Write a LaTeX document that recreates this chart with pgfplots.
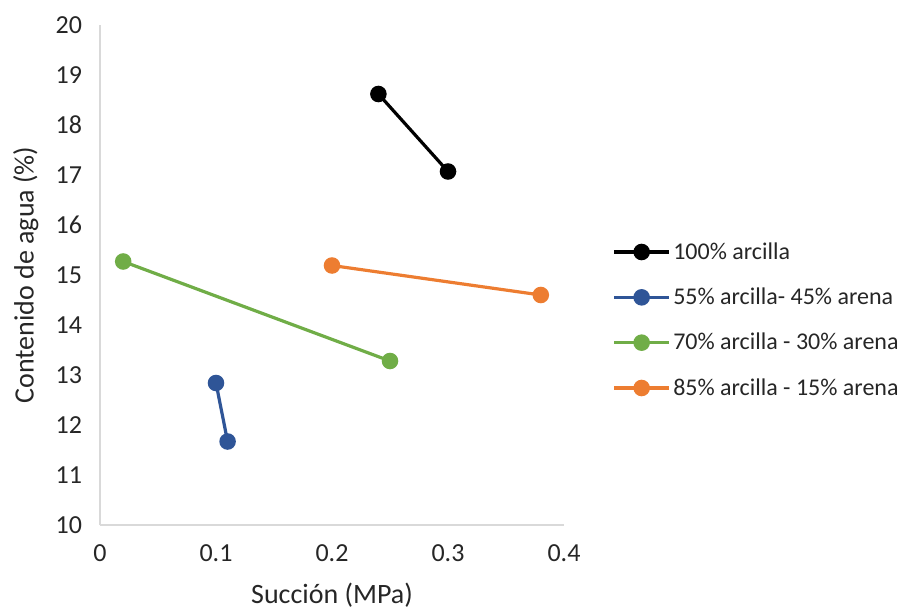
\documentclass[border=0pt]{standalone}
\usepackage{pgfplots}
\pgfplotsset{compat=1.18}
\usepackage{fontspec}
\setmainfont{Carlito}
\definecolor{cblue}{HTML}{2F5597}
\definecolor{cgreen}{HTML}{70AD47}
\definecolor{corange}{HTML}{ED7D31}
\definecolor{txt}{HTML}{262626}
\definecolor{axgray}{HTML}{D9D9D9}
\begin{document}
\begin{tikzpicture}
\begin{axis}[
  at={(0,0)}, anchor=south west,
  scale only axis, width=348pt, height=375pt,
  xmin=0, xmax=0.4, ymin=10, ymax=20,
  xtick={0,0.1,0.2,0.3,0.4}, ytick={10,11,...,20},
  axis x line=bottom, axis y line=left,
  axis line style={axgray, line width=1pt, -},
  major tick length=0pt,
  /pgf/number format/assume math mode=true,
  /pgf/number format/fixed,
  tick label style={font=\fontsize{19.5}{23}\selectfont, text=txt},
  xticklabel style={yshift=-11pt},
  yticklabel style={xshift=-10pt},
  xlabel={Succión (MPa)}, ylabel={Contenido de agua (\%)},
  label style={font=\fontsize{21}{25}\selectfont, text=txt},
  xlabel style={yshift=-9pt},
  ylabel style={yshift=6pt},
  legend style={at={(rel axis cs:1.105,0.41)}, anchor=west, draw=none, fill=none,
    inner sep=0pt, outer sep=0pt,
    font=\fontsize{18}{22}\selectfont, text=txt, row sep=16pt,
    /tikz/every even column/.append style={column sep=2pt}},
  legend cell align=left,
  legend image code/.code={
    \draw[#1, mark=none] (0pt,0pt) -- (41pt,0pt);
    \draw[#1, only marks] plot coordinates {(20.5pt,0pt)};
  },
  every axis plot/.append style={line width=2.4pt, mark=*, mark size=5pt},
  clip=false,
]
\addplot[black, mark options={fill=black}] coordinates {(0.24,18.62) (0.30,17.07)};
\addlegendentry{100\% arcilla}
\addplot[cblue, mark options={fill=cblue}] coordinates {(0.10,12.84) (0.11,11.67)};
\addlegendentry{55\% arcilla- 45\% arena}
\addplot[cgreen, mark options={fill=cgreen}] coordinates {(0.02,15.27) (0.25,13.28)};
\addlegendentry{70\% arcilla - 30\% arena}
\addplot[corange, mark options={fill=corange}] coordinates {(0.20,15.19) (0.38,14.60)};
\addlegendentry{85\% arcilla - 15\% arena}
\end{axis}
\path (-75pt,-67.5pt) rectangle (604.5pt,393.75pt);
\end{tikzpicture}
\end{document}
